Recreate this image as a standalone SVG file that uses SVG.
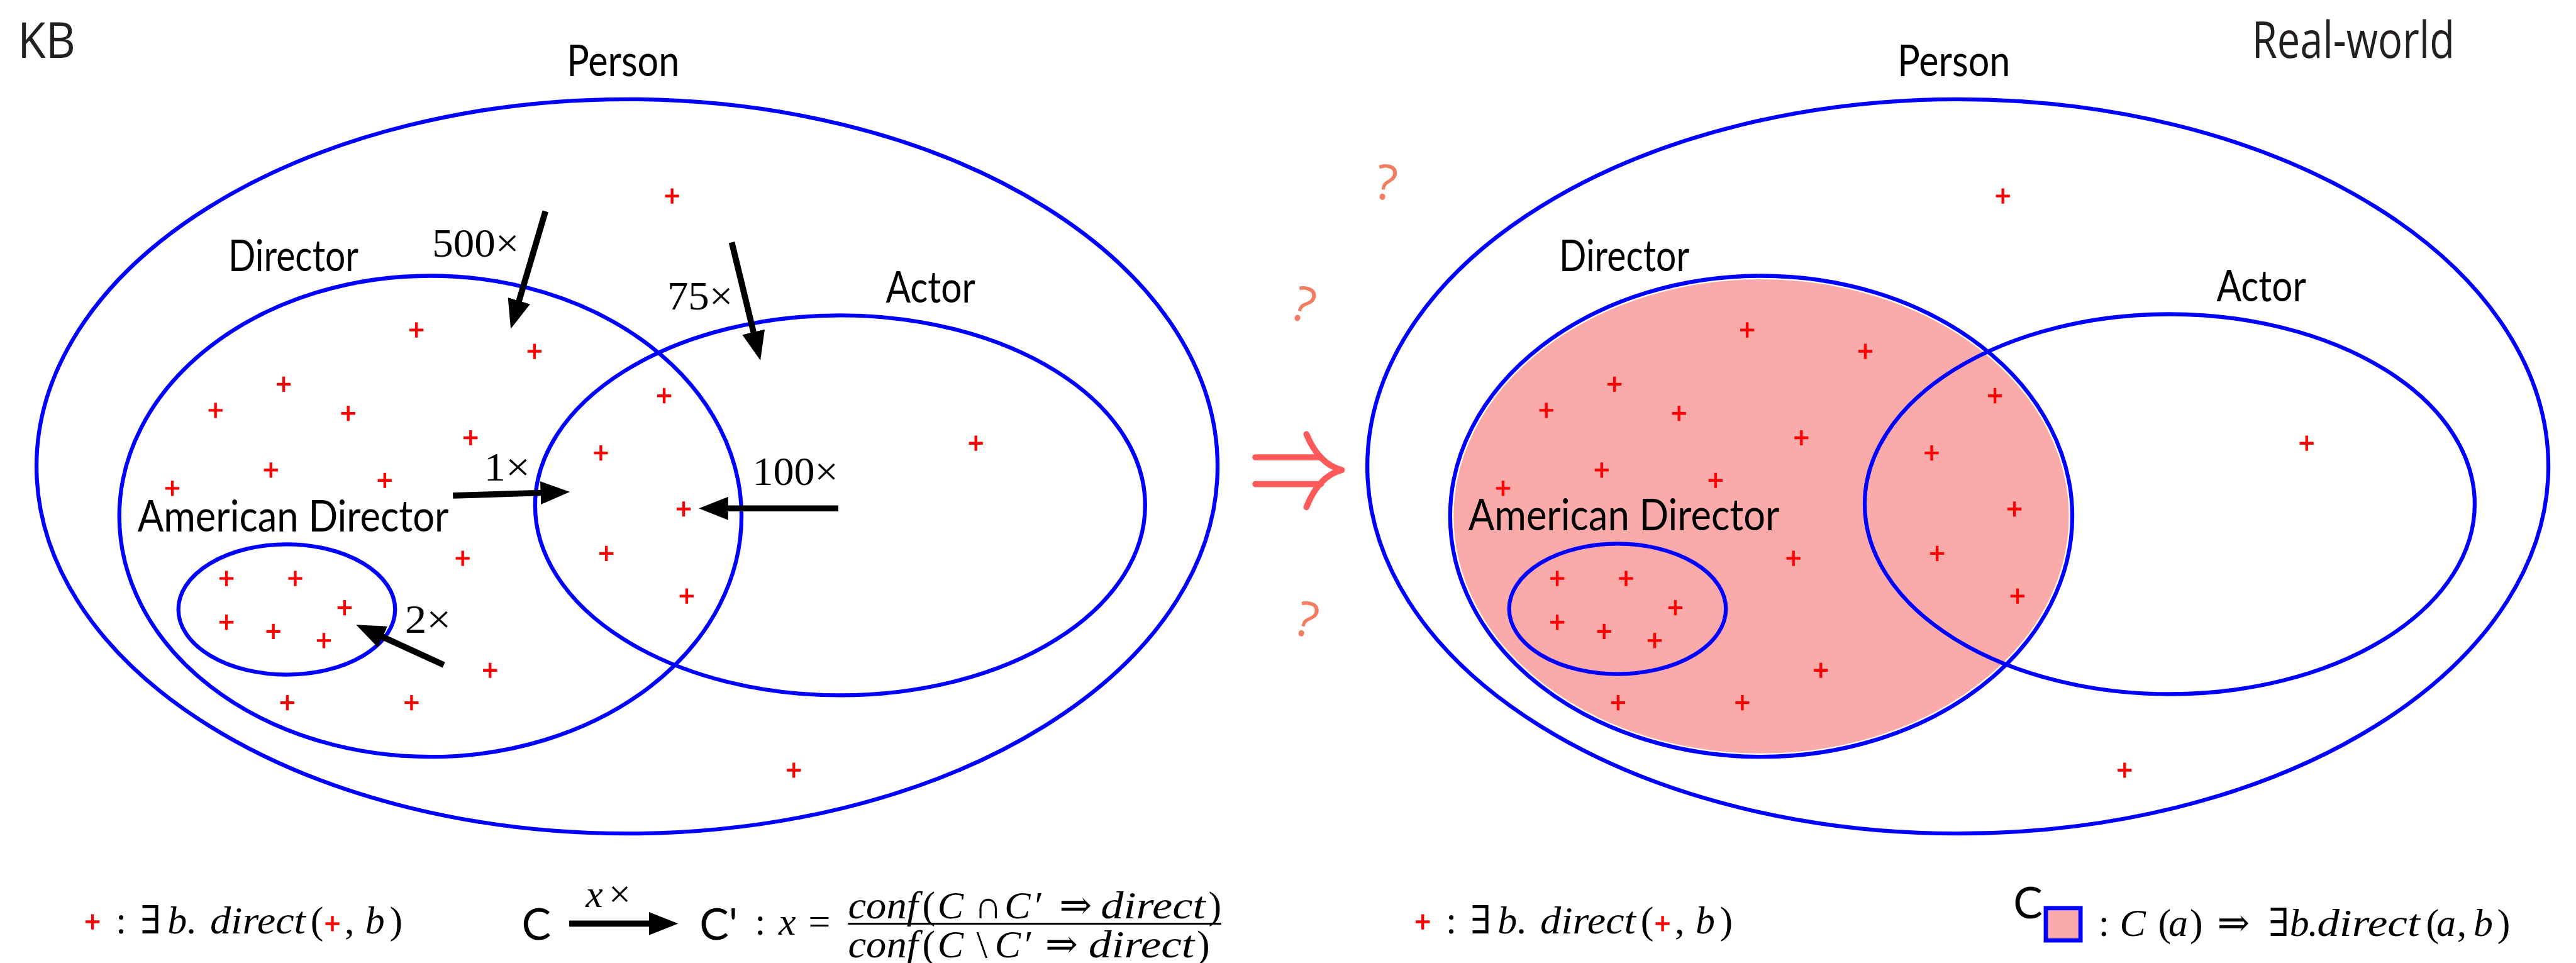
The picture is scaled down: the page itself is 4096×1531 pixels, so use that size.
<svg xmlns="http://www.w3.org/2000/svg" width="4096" height="1531" viewBox="0 0 4096 1531">
<defs>
<style>
.set{fill:none;stroke:#0000ff;stroke-width:6.5}
.lbl{font-family:Lato,"Noto Sans","DejaVu Sans",sans-serif;font-size:72px;fill:#000}
.ttl{font-family:"Open Sans","Noto Sans",sans-serif;fill:#231f20}
.num{font-family:"Liberation Serif","DejaVu Serif",serif;font-size:66px;fill:#000}
.math{font-family:"Liberation Serif","DejaVu Serif",serif;font-size:64px;fill:#000}
.it{font-style:italic}
.shaft{stroke:#000;stroke-width:10;fill:none}
.q{font-family:"Open Sans","Noto Sans",sans-serif;font-size:80px;fill:#f27d62}
.imp{fill:none;stroke:#ff5a5a;stroke-width:10;stroke-linecap:round}
</style>
<path id="c" d="M-11.5 0H11.5M0-12.5V12.5" stroke="#ff0000" stroke-width="4.5" fill="none"/>
<marker id="ah" markerUnits="userSpaceOnUse" viewBox="0 -19 48 38" refX="2" refY="0" markerWidth="48" markerHeight="38" orient="auto"><path d="M0-19L48 0L0 19Z" fill="#000"/></marker>
</defs>
<rect width="4096" height="1531" fill="#fff"/>
<g transform="scale(0.968)">

<!-- LEFT PANEL: KB -->
<g id="kb">
<text class="ttl" x="29" y="95" font-size="81" textLength="95" lengthAdjust="spacingAndGlyphs">KB</text>
<g id="kb-person"><ellipse class="set" cx="1030" cy="766" rx="970" ry="603"/><text class="lbl" x="931" y="125" textLength="185" lengthAdjust="spacingAndGlyphs">Person</text></g>
<g id="kb-director"><ellipse class="set" cx="707" cy="848" rx="511" ry="395"/><text class="lbl" x="375" y="445" textLength="214" lengthAdjust="spacingAndGlyphs">Director</text></g>
<g id="kb-actor"><ellipse class="set" cx="1380" cy="830" rx="501" ry="312"/><text class="lbl" x="1455" y="497" textLength="147" lengthAdjust="spacingAndGlyphs">Actor</text></g>
<g id="kb-american"><ellipse class="set" cx="471" cy="1001" rx="178" ry="107"/><text class="lbl" x="226" y="873" textLength="511" lengthAdjust="spacingAndGlyphs">American Director</text></g>
<g id="kb-instances">
<use href="#c" x="1104" y="322"/><use href="#c" x="684" y="542"/><use href="#c" x="878" y="577"/>
<use href="#c" x="466" y="631"/><use href="#c" x="354" y="674"/><use href="#c" x="572" y="679"/>
<use href="#c" x="773" y="719"/><use href="#c" x="1091" y="650"/><use href="#c" x="987" y="744"/>
<use href="#c" x="445" y="772"/><use href="#c" x="632" y="789"/><use href="#c" x="283" y="802"/>
<use href="#c" x="1123" y="836"/><use href="#c" x="760" y="917"/><use href="#c" x="996" y="909"/>
<use href="#c" x="372" y="950"/><use href="#c" x="485" y="950"/><use href="#c" x="1128" y="979"/>
<use href="#c" x="566" y="998"/><use href="#c" x="372" y="1022"/><use href="#c" x="449" y="1037"/>
<use href="#c" x="532" y="1052"/><use href="#c" x="805" y="1101"/><use href="#c" x="472" y="1154"/>
<use href="#c" x="676" y="1154"/><use href="#c" x="1304" y="1265"/><use href="#c" x="1603" y="728"/>
</g>
</g>

<g id="connectors">
<line class="shaft" x1="896" y1="347" x2="852" y2="496" marker-end="url(#ah)"/>
<text class="num" x="710" y="421" textLength="143" lengthAdjust="spacingAndGlyphs">500×</text>
<line class="shaft" x1="1202" y1="398" x2="1238.2" y2="547.3" marker-end="url(#ah)"/>
<text class="num" x="1096" y="508" textLength="108" lengthAdjust="spacingAndGlyphs">75×</text>
<line class="shaft" x1="744" y1="814" x2="890" y2="809.4" marker-end="url(#ah)"/>
<text class="num" x="795" y="789" textLength="76" lengthAdjust="spacingAndGlyphs">1×</text>
<line class="shaft" x1="1377" y1="835" x2="1194" y2="835" marker-end="url(#ah)"/>
<text class="num" x="1236" y="796" textLength="141" lengthAdjust="spacingAndGlyphs">100×</text>
<line class="shaft" x1="729" y1="1092" x2="626.8" y2="1045.2" marker-end="url(#ah)"/>
<text class="num" x="665" y="1039" textLength="76" lengthAdjust="spacingAndGlyphs">2×</text>
</g>

<!-- middle implication -->
<g id="implies">
<path class="imp" d="M2062 751H2170M2062 795H2170M2146 713Q2166 762 2204 772M2146 833Q2166 782 2204 772"/>
<text class="q" x="2260" y="328" transform="rotate(8 2278 300)">?</text>
<text class="q" x="2125" y="528" transform="rotate(18 2141 498)">?</text>
<text class="q" x="2130" y="1046" transform="rotate(15 2148 1016)">?</text>
</g>

<!-- RIGHT PANEL: Real-world -->
<text class="ttl" x="3699" y="95" font-size="84" textLength="333" lengthAdjust="spacingAndGlyphs">Real-world</text>
<g id="realworld" transform="translate(2186,0)">
<ellipse cx="707" cy="848" rx="506" ry="390" fill="#fbaaaa" stroke="#fff" stroke-width="1.5"/>
<g id="rw-person"><ellipse class="set" cx="1030" cy="766" rx="970" ry="603"/><text class="lbl" x="931" y="125" textLength="185" lengthAdjust="spacingAndGlyphs">Person</text></g>
<g id="rw-director"><ellipse class="set" cx="707" cy="848" rx="511" ry="395"/><text class="lbl" x="375" y="445" textLength="214" lengthAdjust="spacingAndGlyphs">Director</text></g>
<g id="rw-actor"><ellipse class="set" cx="1378" cy="828" rx="501" ry="312"/><text class="lbl" x="1455" y="495" textLength="147" lengthAdjust="spacingAndGlyphs">Actor</text></g>
<g id="rw-american"><ellipse class="set" cx="471" cy="1000" rx="178" ry="107"/><text class="lbl" x="226" y="871" textLength="511" lengthAdjust="spacingAndGlyphs">American Director</text></g>
<use href="#kb-instances"/>
</g>

<!-- legends -->
<g id="legend-kb">
<use href="#c" x="152" y="1514"/>
<use href="#c" x="546" y="1517"/>
<text class="math" y="1533"><tspan x="190">:</tspan><tspan x="230">∃</tspan><tspan x="275" class="it">b</tspan><tspan x="306">.</tspan><tspan x="345" class="it" textLength="157" lengthAdjust="spacingAndGlyphs">direct</tspan><tspan x="510">(</tspan><tspan x="566">,</tspan><tspan x="600" class="it">b</tspan><tspan x="640">)</tspan></text>
</g>
<g id="legend-conf">
<text class="lbl" x="857" y="1543">C</text>
<line class="shaft" x1="935" y1="1517" x2="1068" y2="1517" marker-end="url(#ah)"/>
<text class="math" y="1490" font-size="56"><tspan x="962" class="it">x</tspan><tspan x="1000">×</tspan></text>
<text class="lbl" x="1149" y="1543">C'</text>
<text class="math" y="1535"><tspan x="1240">:</tspan><tspan x="1279" class="it">x</tspan><tspan x="1328">=</tspan></text>
<text class="math" y="1508"><tspan class="it" x="1393" textLength="115" lengthAdjust="spacingAndGlyphs">conf</tspan><tspan x="1515">(</tspan><tspan class="it" x="1540">C</tspan><tspan x="1600">∩</tspan><tspan class="it" x="1650">C</tspan><tspan x="1700">′</tspan><tspan x="1740">⇒</tspan><tspan class="it" x="1808" textLength="172" lengthAdjust="spacingAndGlyphs">direct</tspan><tspan x="1985">)</tspan></text>
<line x1="1393" y1="1517" x2="2006" y2="1517" stroke="#000" stroke-width="3"/>
<text class="math" y="1572"><tspan class="it" x="1393" textLength="115" lengthAdjust="spacingAndGlyphs">conf</tspan><tspan x="1515">(</tspan><tspan class="it" x="1540">C</tspan><tspan x="1604">\</tspan><tspan class="it" x="1634">C</tspan><tspan x="1683">′</tspan><tspan x="1717">⇒</tspan><tspan class="it" x="1788" textLength="174" lengthAdjust="spacingAndGlyphs">direct</tspan><tspan x="1966">)</tspan></text>
</g>
<g id="legend-rw-instances" transform="translate(2185,0)">
<use href="#c" x="152" y="1514"/>
<use href="#c" x="546" y="1517"/>
<text class="math" y="1533"><tspan x="190">:</tspan><tspan x="230">∃</tspan><tspan x="275" class="it">b</tspan><tspan x="306">.</tspan><tspan x="345" class="it" textLength="157" lengthAdjust="spacingAndGlyphs">direct</tspan><tspan x="510">(</tspan><tspan x="566">,</tspan><tspan x="600" class="it">b</tspan><tspan x="640">)</tspan></text>
</g>
<g id="legend-rw">
<text class="lbl" x="3307" y="1508" font-size="62">C</text>
<rect x="3360.5" y="1491.5" width="57" height="53" fill="#fbaaaa" stroke="#0000ff" stroke-width="7"/>
<text class="math" y="1537"><tspan x="3447">:</tspan><tspan class="it" x="3482">C</tspan><tspan x="3545">(</tspan><tspan class="it" x="3562">a</tspan><tspan x="3597">)</tspan><tspan x="3642">⇒</tspan><tspan x="3726">∃</tspan><tspan class="it" x="3761">b</tspan><tspan x="3790">.</tspan><tspan class="it" x="3806" textLength="169" lengthAdjust="spacingAndGlyphs">direct</tspan><tspan x="3985">(</tspan><tspan class="it" x="4002">a</tspan><tspan x="4036">,</tspan><tspan class="it" x="4063">b</tspan><tspan x="4102">)</tspan></text>
</g>
</g>
</svg>
